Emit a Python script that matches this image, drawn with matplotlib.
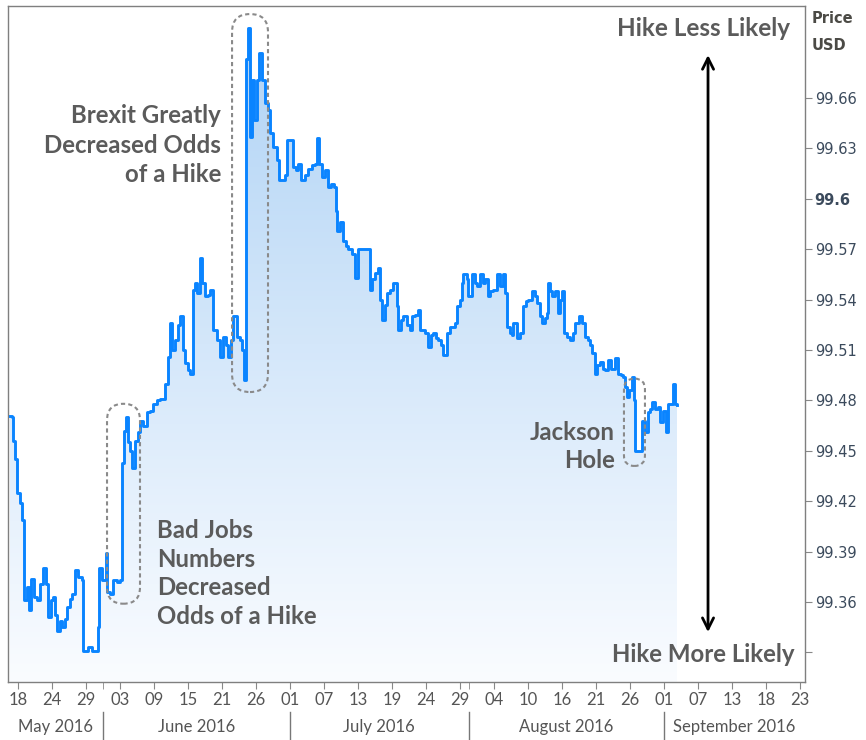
import numpy as np
import matplotlib.pyplot as plt
from matplotlib.colors import LinearSegmentedColormap
from matplotlib.patches import FancyBboxPatch
from matplotlib.transforms import IdentityTransform, blended_transform_factory

# x = trading session (0 = 18 May 2016, one unit per session), y = price in USD
session = [-0.94, -0.71, -0.59, -0.35, -0.12, 0.24, 0.47, 0.71, 1.06, 1.29, 1.53, 1.88, 2.24, 2.59, 2.94,
           3.29, 3.53, 3.88, 4.12, 4.35, 4.59, 4.94, 5.18, 5.53, 5.76, 6.12, 6.35, 6.71, 7.06, 7.29, 7.53,
           7.65, 8.24, 8.71, 9.18, 9.41, 9.53, 9.88, 10.35, 10.47, 10.82, 11.18, 11.65, 12.00, 12.24, 12.47,
           12.71, 12.94, 13.18, 13.41, 13.76, 14.12, 14.35, 14.71, 15.18, 15.53, 15.88, 16.35, 16.71, 17.06,
           17.29, 17.65, 17.88, 18.12, 18.47, 18.82, 19.06, 19.41, 19.65, 20.00, 20.24, 20.59, 20.82, 21.06,
           21.41, 21.65, 22.00, 22.35, 22.59, 22.94, 23.41, 23.76, 24.12, 24.47, 24.71, 25.06, 25.29, 25.76,
           26.12, 26.35, 26.59, 26.82, 27.06, 27.29, 27.53, 27.76, 28.12, 28.35, 28.71, 29.06, 29.41, 29.65,
           30.00, 30.47, 30.71, 31.18, 31.41, 31.65, 32.00, 32.35, 32.71, 32.94, 33.29, 33.76, 34.12, 34.59,
           34.94, 35.18, 35.41, 35.76, 36.12, 36.47, 36.82, 37.18, 37.41, 37.53, 37.88, 38.24, 38.59, 38.82,
           39.29, 39.65, 40.00, 40.59, 41.18, 41.41, 41.65, 42.00, 42.35, 42.59, 42.82, 43.18, 43.41, 43.76,
           44.12, 44.59, 44.71, 45.06, 45.29, 45.76, 46.12, 46.35, 46.71, 47.06, 47.29, 47.88, 48.24, 48.59,
           48.82, 49.18, 49.41, 49.76, 50.00, 50.47, 50.82, 51.41, 51.65, 52.00, 52.24, 52.35, 52.82, 52.94,
           53.41, 53.76, 54.00, 54.35, 54.71, 54.94, 55.29, 55.53, 55.88, 56.35, 56.71, 57.06, 57.29, 57.53,
           57.88, 58.12, 58.24, 58.71, 59.06, 59.29, 59.41, 59.76, 60.00, 60.47, 60.82, 61.06, 61.41, 61.65,
           62.00, 62.24, 62.35, 62.59, 62.82, 63.18, 63.53, 63.76, 64.00, 64.24, 64.59, 64.94, 65.29, 65.53,
           66.00, 66.35, 66.71, 67.06, 67.29, 67.53, 67.88, 68.12, 68.47, 68.82, 69.06, 69.41, 69.76, 70.00,
           70.24, 70.59, 70.94, 71.18, 71.41, 71.65, 71.88, 72.24, 72.47, 72.59, 72.94, 73.18, 73.41, 73.76,
           74.12, 74.35, 74.59, 74.94, 75.29, 75.53, 75.88, 76.24, 76.47, 76.94, 77.06, 77.29, 77.53]
price = [99.471, 99.470, 99.456, 99.445, 99.425, 99.419, 99.409, 99.361, 99.369, 99.355, 99.374, 99.363,
         99.361, 99.371, 99.380, 99.371, 99.351, 99.361, 99.363, 99.352, 99.343, 99.349, 99.345, 99.350,
         99.357, 99.362, 99.365, 99.379, 99.375, 99.375, 99.373, 99.331, 99.333, 99.331, 99.331, 99.345,
         99.380, 99.373, 99.389, 99.366, 99.365, 99.373, 99.372, 99.373, 99.443, 99.462, 99.470, 99.455,
         99.450, 99.440, 99.456, 99.461, 99.468, 99.465, 99.473, 99.474, 99.478, 99.480, 99.481, 99.481,
         99.490, 99.506, 99.526, 99.510, 99.516, 99.525, 99.530, 99.510, 99.502, 99.498, 99.496, 99.546,
         99.550, 99.544, 99.565, 99.550, 99.542, 99.543, 99.546, 99.522, 99.516, 99.506, 99.518, 99.513,
         99.506, 99.516, 99.530, 99.518, 99.516, 99.510, 99.492, 99.683, 99.702, 99.637, 99.671, 99.647,
         99.671, 99.687, 99.671, 99.657, 99.653, 99.639, 99.631, 99.623, 99.611, 99.611, 99.614, 99.635,
         99.635, 99.619, 99.617, 99.621, 99.611, 99.614, 99.618, 99.620, 99.621, 99.636, 99.621, 99.613,
         99.617, 99.607, 99.609, 99.607, 99.593, 99.581, 99.586, 99.575, 99.572, 99.570, 99.567, 99.553,
         99.570, 99.570, 99.570, 99.546, 99.552, 99.556, 99.559, 99.540, 99.528, 99.537, 99.544, 99.546,
         99.550, 99.536, 99.522, 99.528, 99.530, 99.525, 99.522, 99.530, 99.531, 99.534, 99.522, 99.520,
         99.512, 99.519, 99.520, 99.517, 99.516, 99.513, 99.507, 99.520, 99.524, 99.526, 99.536, 99.540,
         99.550, 99.555, 99.552, 99.542, 99.555, 99.550, 99.548, 99.555, 99.550, 99.552, 99.542, 99.545,
         99.546, 99.555, 99.548, 99.555, 99.544, 99.524, 99.520, 99.519, 99.526, 99.517, 99.520, 99.520,
         99.536, 99.539, 99.540, 99.545, 99.542, 99.538, 99.530, 99.526, 99.529, 99.532, 99.550, 99.545,
         99.542, 99.545, 99.532, 99.540, 99.545, 99.520, 99.518, 99.516, 99.520, 99.526, 99.530, 99.526,
         99.518, 99.516, 99.513, 99.508, 99.496, 99.501, 99.503, 99.499, 99.498, 99.504, 99.499, 99.499,
         99.505, 99.496, 99.495, 99.494, 99.488, 99.482, 99.486, 99.494, 99.480, 99.450, 99.450, 99.450,
         99.468, 99.461, 99.473, 99.475, 99.479, 99.475, 99.476, 99.467, 99.474, 99.461, 99.478, 99.478,
         99.490, 99.478, 99.477]

day_ticks = list(range(0, 93, 4))
day_labels = ["18", "24", "29", "03", "09", "15", "21", "26", "01", "07", "13", "19",
              "24", "29", "04", "10", "16", "21", "26", "01", "07", "13", "18", "23"]
month_starts = [10, 32, 53, 76]
month_names = ["May 2016", "June 2016", "July 2016", "August 2016", "September 2016"]
price_ticks = [99.33, 99.36, 99.39, 99.42, 99.45, 99.48, 99.51, 99.54, 99.57, 99.60, 99.63, 99.66]
price_labels = ["", "99.36", "99.39", "99.42", "99.45", "99.48", "99.51", "99.54", "99.57", "99.6", "99.63", "99.66"]

line_col = "#0a84ff"
note_col = "#5b5b5b"
narrow = "Lato"

fig = plt.figure(figsize=(8.66, 7.40), dpi=100)
ax = fig.add_axes([8 / 866, 58 / 740, 797 / 866, 676 / 740])
x_lo, x_hi = -1.18, 92.59
y_lo, y_hi = 99.3124, 99.7148

# gradient area under the price
area = ax.fill_between(session, price, y_lo, step="post", facecolor="none", edgecolor="none")
cmap = LinearSegmentedColormap.from_list("fade", ["#fafcff", "#aed2f5"])
grad = np.linspace(0, 1, 256).reshape(-1, 1)
img = ax.imshow(grad, extent=[x_lo, x_hi, y_lo, y_hi], origin="lower", aspect="auto", cmap=cmap, zorder=1)
img.set_clip_path(area.get_paths()[0], transform=ax.transData)

ax.plot(session, price, drawstyle="steps-post", color=line_col, lw=2.1, zorder=3)

ax.set_xlim(x_lo, x_hi)
ax.set_ylim(y_lo, y_hi)
for sp in ax.spines.values():
    sp.set_color("#7f7f7f")
    sp.set_linewidth(1)

# x axis: days + months
ax.set_xticks(day_ticks)
ax.set_xticklabels(day_labels, fontfamily=narrow, fontsize=12, color="#555555")
ax.set_xticks(month_starts, minor=True)
ax.tick_params(axis="x", which="both", length=5, color="#888888", pad=2)
trans = blended_transform_factory(ax.transData, ax.transAxes)
bounds = [x_lo] + month_starts + [x_hi]
for i, name in enumerate(month_names):
    ax.text((bounds[i] + bounds[i + 1]) / 2, -0.066, name, transform=trans, ha="center", va="center",
            fontfamily=narrow, fontsize=12, color="#555555")
for m in month_starts:
    ax.plot([m, m], [-0.044, -0.09], transform=trans, color="#777777", lw=1, clip_on=False)

# y axis on the right
ax.yaxis.tick_right()
ax.set_yticks(price_ticks)
ax.set_yticklabels(price_labels)
ax.tick_params(axis="y", length=5, color="#888888", pad=2, labelsize=10.5, labelcolor="#3b4a5c")
ax.get_yticklabels()[price_labels.index("99.6")].set_fontweight("bold")
fig.text(812 / 866, 1 - 32 / 740, "Price\nUSD", ha="left", va="center", fontsize=10.5,
         fontweight="bold", color="#4b4a45", linespacing=2.0)

# dashed capsules around the events
def capsule(x0, x1, p0, p1):
    a, b = ax.transData.transform((x0, p0))
    c, d = ax.transData.transform((x1, p1))
    w, h = c - a, d - b
    box = FancyBboxPatch((a, b), w, h, boxstyle=f"round,pad=0,rounding_size={w / 2}",
                         transform=IdentityTransform(), fill=False, edgecolor="#8a8a8a",
                         lw=1.5, ls=(0, (2, 1.5)), zorder=4)
    ax.add_patch(box)

capsule(10.47, 14.35, 99.359, 99.478)
capsule(25.18, 29.41, 99.485, 99.710)
capsule(71.29, 73.76, 99.441, 99.493)

# notes
bold = dict(fontweight="bold", color=note_col, fontfamily=narrow)
ax.text(90.8, 99.7017, "Hike Less Likely", ha="right", va="center", fontsize=17.5, **bold)
ax.text(91.4, 99.3285, "Hike More Likely", ha="right", va="center", fontsize=17.3, **bold)
ax.text(23.9, 99.632, "Brexit Greatly\nDecreased Odds\nof a Hike", ha="right", va="center",
        fontsize=17.3, linespacing=1.33, **bold)
ax.text(16.35, 99.377, "Bad Jobs\nNumbers\nDecreased\nOdds of a Hike", ha="left", va="center",
        fontsize=17.3, linespacing=1.3, **bold)
ax.text(70.24, 99.4526, "Jackson\nHole", ha="right", va="center", fontsize=17.3, linespacing=1.3, **bold)

ax.annotate("", xy=(81.18, 99.6856), xytext=(81.18, 99.3421),
            arrowprops=dict(arrowstyle="<->,head_length=0.8,head_width=0.4", lw=2, color="black",
                            shrinkA=0, shrinkB=0))

fig.savefig("out.png", dpi=100)
